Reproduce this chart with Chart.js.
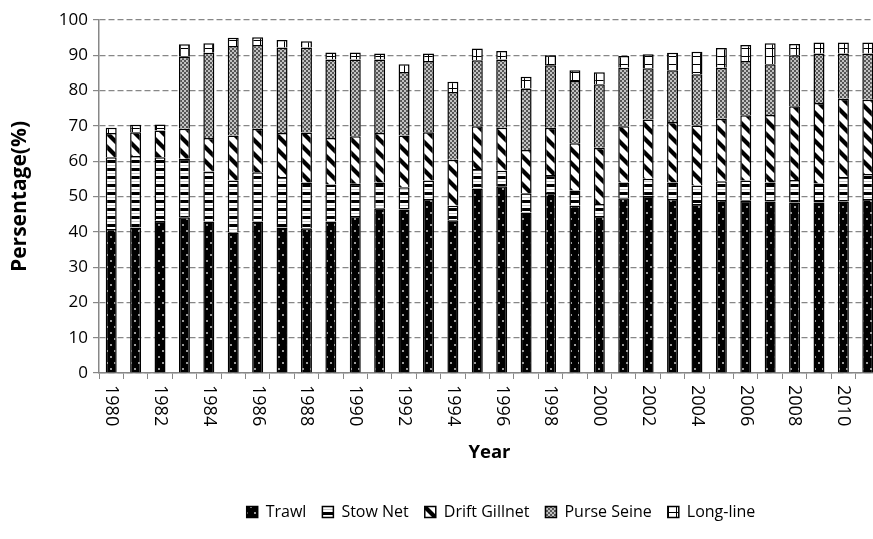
<!DOCTYPE html>
<html>
<head>
<meta charset="utf-8">
<title>Fishing gear share</title>
<script src="https://cdn.jsdelivr.net/npm/chart.js@4.4.1/dist/chart.umd.min.js"></script>
<style>
  html, body { margin: 0; padding: 0; background: #fff; overflow: hidden; }
  #chart { display: block; }
</style>
</head>
<body>
<canvas id="chart" width="880" height="539"></canvas>
<script>
// ------------- Dados -------------
const years = ['1980','1981','1982','1983','1984','1985','1986','1987','1988','1989',
  '1990','1991','1992','1993','1994','1995','1996','1997','1998','1999',
  '2000','2001','2002','2003','2004','2005','2006','2007','2008','2009','2010','2011'];

const trawl = [40.8, 41.2, 43.1, 44.1, 42.9, 39.8, 42.9, 41.2, 41.0, 42.9,
  44.5, 46.7, 46.3, 49.3, 43.3, 52.3, 52.9, 45.5, 51.0, 47.4,
  44.5, 49.5, 50.2, 49.3, 47.9, 49.0, 48.8, 48.6, 48.3, 48.3, 48.6, 49.3];
const stowNet = [20.3, 20.3, 18.0, 16.6, 14.2, 14.7, 14.0, 14.3, 13.0, 10.5,
  9.1, 7.3, 6.3, 5.2, 4.1, 5.5, 4.4, 5.4, 5.1, 4.3,
  3.4, 4.5, 4.8, 4.7, 5.2, 5.3, 5.7, 5.4, 6.4, 5.4, 6.9, 7.1];
const driftGillnet = [6.9, 6.7, 7.6, 8.5, 9.5, 12.8, 12.3, 12.5, 14.1, 13.2,
  13.5, 14.0, 14.7, 13.7, 13.0, 12.1, 12.2, 12.3, 13.4, 13.4,
  15.9, 15.9, 16.8, 17.1, 17.0, 17.7, 18.5, 19.1, 20.9, 22.8, 22.2, 21.0];
const purseSeine = [0, 0, 0, 20.4, 24.1, 25.3, 23.7, 24.2, 24.1, 22.2,
  21.7, 20.8, 18.0, 20.2, 19.2, 18.7, 19.3, 17.4, 17.7, 17.6,
  18.0, 16.6, 14.5, 14.7, 14.5, 14.5, 15.4, 14.4, 14.4, 14.0, 12.8, 13.1];
const longLine = [1.5, 2.1, 1.7, 3.5, 2.7, 2.4, 2.2, 2.1, 1.8, 2.0,
  2.0, 1.7, 2.2, 2.1, 2.9, 3.3, 2.4, 3.3, 2.8, 3.1,
  3.4, 3.3, 4.0, 4.9, 6.4, 5.6, 4.5, 5.9, 3.2, 3.1, 3.1, 3.1];

const yTicks = [0, 10, 20, 30, 40, 50, 60, 70, 80, 90, 100];

// ------------- Padrões (estilo Excel P&B) -------------
function makePattern(w, h, draw) {
  const c = document.createElement('canvas');
  c.width = w; c.height = h;
  const g = c.getContext('2d');
  draw(g, w, h);
  return g.createPattern(c, 'repeat');
}

const trawlFill = makePattern(8, 12, (g) => {
  g.fillStyle = '#000'; g.fillRect(0, 0, 8, 12);
  g.fillStyle = '#9a9a9a';
  g.fillRect(2, 2, 2, 2);
  g.fillRect(6, 8, 2, 2);
});

const stowFill = makePattern(4, 8, (g) => {
  g.fillStyle = '#000'; g.fillRect(0, 0, 4, 8);
  g.fillStyle = '#fff'; g.fillRect(0, 3, 4, 5);
  g.fillStyle = '#c8c8c8'; g.fillRect(0, 5, 4, 1);
});

const driftFill = makePattern(14, 14, (g) => {
  const img = g.createImageData(14, 14);
  for (let y = 0; y < 14; y++) {
    for (let x = 0; x < 14; x++) {
      const d = ((x - y) % 14 + 14) % 14;
      let v = 255;
      if (d < 5) v = 0;
      else if (d === 5 || d === 13) v = 128;
      const k = (y * 14 + x) * 4;
      img.data[k] = img.data[k + 1] = img.data[k + 2] = v;
      img.data[k + 3] = 255;
    }
  }
  g.putImageData(img, 0, 0);
});

const purseFill = makePattern(4, 4, (g) => {
  g.fillStyle = '#c2c2c2'; g.fillRect(0, 0, 4, 4);
  g.fillStyle = '#555';
  g.fillRect(0, 0, 2, 2);
  g.fillRect(2, 2, 2, 2);
});

const longFill = makePattern(8, 8, (g) => {
  g.fillStyle = '#fff'; g.fillRect(0, 0, 8, 8);
  g.fillStyle = '#000';
  g.fillRect(4, 0, 1, 8);
  g.fillRect(0, 0, 8, 1);
});

// ------------- Plugins -------------
// rótulos do eixo X lidos de cima para baixo (como no Excel)
const yearLabels = {
  id: 'yearLabels',
  afterDraw(chart) {
    const { ctx, scales: { x } } = chart;
    ctx.save();
    ctx.font = '18px "Open Sans"';
    ctx.fillStyle = '#000';
    ctx.textAlign = 'left';
    ctx.textBaseline = 'middle';
    years.forEach((yr, i) => {
      if (i % 2) return;
      ctx.save();
      ctx.translate(x.getPixelForValue(i), x.top + 12);
      ctx.rotate(Math.PI / 2);
      ctx.fillText(yr, 0, 0);
      ctx.restore();
    });
    ctx.restore();
  }
};

// legenda centrada em (501, 512) como no original
const legendPad = 16;
const legendFont = { family: '"Open Sans"', size: 16 };
const legendShift = {
  id: 'legendShift',
  afterLayout(chart) {
    const lg = chart.legend;
    const dy = 512 - (lg.top + legendPad + legendFont.size / 2);
    const dx = 501 - (lg.left + lg.right) / 2;
    lg.top += dy; lg.bottom += dy;
    lg.left += dx; lg.right += dx;
  }
};

const font = { family: '"Open Sans"', size: 17 };
const grey = '#878787';

new Chart(document.getElementById('chart'), {
  type: 'bar',
  data: {
    labels: years,
    datasets: [
      { label: 'Trawl', data: trawl, backgroundColor: trawlFill },
      { label: 'Stow Net', data: stowNet, backgroundColor: stowFill },
      { label: 'Drift Gillnet', data: driftGillnet, backgroundColor: driftFill },
      { label: 'Purse Seine', data: purseSeine, backgroundColor: purseFill },
      { label: 'Long-line', data: longLine, backgroundColor: longFill }
    ]
  },
  options: {
    responsive: false,
    animation: false,
    devicePixelRatio: 1,
    layout: { padding: { top: 20, right: 0, bottom: 0, left: 0 } },
    datasets: {
      bar: { categoryPercentage: 1, barPercentage: 0.45, borderColor: '#000', borderWidth: 1.5 }
    },
    plugins: {
      tooltip: { enabled: false },
      legend: {
        position: 'bottom',
        labels: { font: legendFont, color: '#000', boxWidth: 11, boxHeight: 11, padding: legendPad }
      }
    },
    scales: {
      x: {
        stacked: true,
        grid: { display: true, drawOnChartArea: false, drawTicks: true, tickLength: 6, color: grey, offset: true },
        border: { color: grey, width: 1.5 },
        ticks: { display: false },
        title: { display: true, text: 'Year', color: '#000', font: { family: '"Open Sans"', size: 18.5, weight: 'bold' }, padding: { top: 0, bottom: 33 } },
        afterFit(s) { s.height = 124; }
      },
      y: {
        stacked: true,
        min: 0,
        max: 100,
        afterBuildTicks(s) { s.ticks = yTicks.map(v => ({ value: v })); },
        ticks: { font, color: '#000', padding: 5 },
        grid: { color: grey, tickLength: 6, lineWidth: 1.2 },
        border: { color: grey, width: 1.5, dash: [6, 3] },
        title: { display: true, text: 'Persentage(%)', color: '#000', font: { family: '"Open Sans"', size: 21, weight: 'bold' }, padding: { top: 7, bottom: 0 } },
        afterFit(s) { s.width = 99; }
      }
    }
  },
  plugins: [yearLabels, legendShift]
});
</script>
</body>
</html>
